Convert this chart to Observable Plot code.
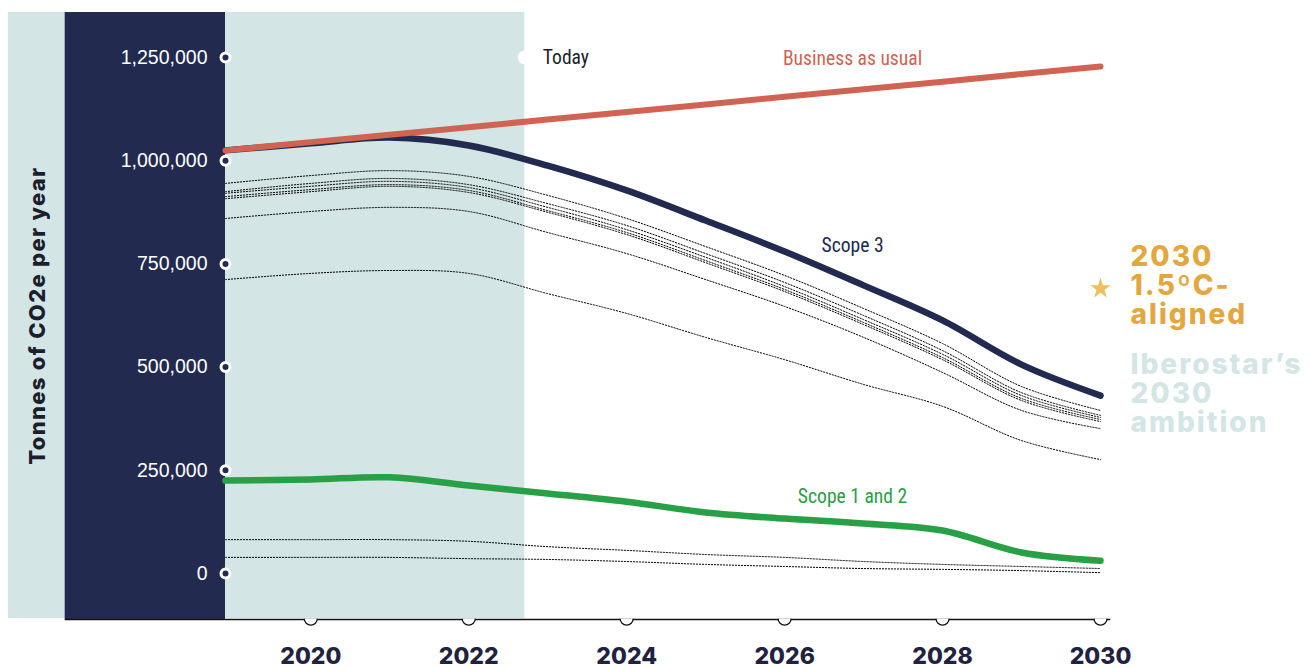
<!DOCTYPE html>
<html>
<head>
<meta charset="utf-8">
<script src="https://cdn.jsdelivr.net/npm/d3@7"></script>
<script src="https://cdn.jsdelivr.net/npm/@observablehq/plot@0.6"></script>
<style>
  html, body { margin: 0; padding: 0; background: #ffffff; }
  #chart svg { display: block; }
</style>
</head>
<body>
<div id="chart"></div>
<script>
// ---- data ----
const years = [2018.92, 2020, 2021, 2022, 2023, 2024, 2025, 2026, 2027, 2028, 2029, 2030];
const businessAsUsual = [1025000, 1045000, 1063000, 1081000, 1100000, 1118000, 1136000, 1155000, 1173000, 1191000, 1210000, 1228000];
const scope3 = [1025000, 1042000, 1056000, 1037000, 988000, 928000, 855000, 780000, 698000, 613000, 506000, 431000];
const scope12 = [225000, 228000, 233000, 213000, 194000, 174000, 148000, 133000, 121000, 104000, 51000, 31000];
const scope3Sub1 = [945000, 964000, 976000, 962000, 916000, 860000, 792000, 722000, 642000, 557000, 453000, 395000];
const scope3Sub2 = [925000, 945000, 957000, 942000, 896000, 843000, 775000, 705000, 625000, 540000, 438000, 383000];
const scope3Sub3 = [921000, 938000, 950000, 935000, 887000, 833000, 766000, 695000, 615000, 531000, 431000, 378000];
const scope3Sub4 = [913000, 930000, 942000, 928000, 879000, 826000, 758000, 688000, 608000, 523000, 424000, 373000];
const scope3Sub5 = [908000, 925000, 938000, 923000, 875000, 821000, 753000, 683000, 603000, 518000, 419000, 368000];
const scope3Sub6 = [860000, 877000, 887000, 877000, 826000, 775000, 712000, 647000, 572000, 487000, 395000, 351000];
const scope3Sub7 = [712000, 727000, 734000, 727000, 678000, 630000, 572000, 518000, 458000, 405000, 322000, 276000];
const scope12Sub1 = [82000, 82000, 82000, 78000, 65000, 56000, 46000, 39000, 29000, 22000, 17000, 12000];
const scope12Sub2 = [39000, 39000, 39000, 36000, 34000, 29000, 22000, 17000, 12000, 10000, 7000, 2000];

const yTicks = [0, 250000, 500000, 750000, 1000000, 1250000];
const xTicks = [2020, 2022, 2024, 2026, 2028, 2030];
const todayYear = 2022.71;
const alignedTarget = 690000;
const labelYear = 2026.86;
const lineLabels = [
  {text: "Business as usual", y: 1248000, color: "#D06352"},
  {text: "Scope 3", y: 795000, color: "#212A4E"},
  {text: "Scope 1 and 2", y: 186000, color: "#28A046"}
];
// background panels (in data units)
const panelLeft = 2016.17, axisBandLeft = 2016.89, axisLineRight = 2030.13;
const panelTop = 1359000, panelBottom = -109000, axisLineValue = -111400;

// ---- styles ----
const navy = "#222B4F", lightBlue = "#D3E5E5", red = "#D06352", green = "#28A046", gold = "#E2A83F", starGold = "#EDC063";
const narrowFont = "'Liberation Sans Narrow', 'Roboto Condensed', 'DejaVu Sans Condensed', 'Liberation Sans', sans-serif";
const tickFont = "'Liberation Sans', Arial, sans-serif";
const boldFont = "Inter, 'Noto Sans', sans-serif";

const toRows = (name, vals) => years.map((x, i) => ({x, y: vals[i], name}));
const dotted = [
  ...toRows("s3a", scope3Sub1), ...toRows("s3b", scope3Sub2), ...toRows("s3c", scope3Sub3),
  ...toRows("s3d", scope3Sub4), ...toRows("s3e", scope3Sub5), ...toRows("s3f", scope3Sub6),
  ...toRows("s3g", scope3Sub7), ...toRows("s12a", scope12Sub1), ...toRows("s12b", scope12Sub2)
];

const halfCircle = {
  draw(context, size) {
    const r = Math.sqrt(size / Math.PI);
    context.moveTo(r, 0);
    context.arc(0, 0, r, 0, Math.PI);
  }
};

const chart = Plot.plot({
  width: 1309,
  height: 668,
  marginLeft: 225,
  marginRight: 209,
  marginTop: 57,
  marginBottom: 95,
  x: {domain: [years[0], 2030], axis: null},
  y: {domain: [0, 1250000], axis: null},
  style: {background: "transparent", overflow: "visible"},
  marks: [
    Plot.rect([0], {x1: panelLeft, x2: todayYear, y1: panelBottom, y2: panelTop, fill: lightBlue}),
    Plot.rect([0], {x1: axisBandLeft, x2: years[0], y1: axisLineValue, y2: panelTop, fill: navy}),
    Plot.ruleY([axisLineValue], {x1: axisBandLeft, x2: axisLineRight, stroke: "#111", strokeWidth: 1.5}),
    Plot.dot(xTicks, {x: d => d, y: axisLineValue, symbol: halfCircle, r: 6.5, fill: "white", stroke: "#111", strokeWidth: 1.3, dy: -0.8}),
    Plot.line(dotted, {x: "x", y: "y", z: "name", curve: "catmull-rom", stroke: "#000", strokeWidth: 1, strokeDasharray: "1.3,1.7"}),
    Plot.line(toRows("s12", scope12), {x: "x", y: "y", curve: "catmull-rom", stroke: green, strokeWidth: 6.5, strokeLinecap: "round"}),
    Plot.line(toRows("s3", scope3), {x: "x", y: "y", curve: "catmull-rom", stroke: navy, strokeWidth: 6.5, strokeLinecap: "round"}),
    Plot.line(toRows("bau", businessAsUsual), {x: "x", y: "y", stroke: red, strokeWidth: 6, strokeLinecap: "round"}),
    // y axis
    Plot.dot(yTicks, {y: d => d, frameAnchor: "left", r: 4.5, fill: navy, stroke: "white", strokeWidth: 3}),
    Plot.text(yTicks, {y: d => d, frameAnchor: "left", dx: -18, text: d => d3.format(",")(d), textAnchor: "end", fill: "white", fontSize: 19.5, fontFamily: tickFont}),
    Plot.text(["Tonnes of CO2e per year"], {frameAnchor: "left", dx: -188, rotate: -90, text: d => d, textAnchor: "middle", lineAnchor: "middle", fill: "#1C1E2E", fontSize: 22, fontWeight: 800, fontFamily: boldFont}),
    // x axis labels
    Plot.text(xTicks, {x: d => d, frameAnchor: "bottom", dy: 74, lineAnchor: "top", text: d => String(d), fill: "#1F2340", fontSize: 23, fontWeight: 800, fontFamily: boldFont}),
    // today marker
    Plot.dot([1250000], {x: todayYear, y: d => d, r: 7, fill: "white"}),
    Plot.text([1250000], {x: todayYear, y: d => d, dx: 18, text: ["Today"], textAnchor: "start", fill: "#1C1E2E", fontSize: 19.6, fontFamily: narrowFont}),
    // line labels
    Plot.text(lineLabels, {x: labelYear, y: "y", text: "text", fill: "color", fontSize: 19.6, fontFamily: narrowFont}),
    // right side annotations
    Plot.dot([alignedTarget], {x: 2030, y: d => d, symbol: "star", r: 6.5, fill: starGold}),
    Plot.text([alignedTarget], {x: 2030, y: d => d, dx: 30, dy: -3, text: ["2030\n1.5ºC-\naligned"], textAnchor: "start", lineAnchor: "middle", lineHeight: 1.04, fill: gold, fontSize: 28, fontWeight: 800, fontFamily: boldFont}),
    Plot.text([scope3[scope3.length - 1]], {x: 2030, y: d => d, dx: 30, dy: -2, text: ["Iberostar’s\n2030\nambition"], textAnchor: "start", lineAnchor: "middle", lineHeight: 1.04, fill: lightBlue, fontSize: 28, fontWeight: 800, fontFamily: boldFont})
  ]
});

// letter spacing (not a Plot text option): applied to the text groups by their font size
d3.select(chart).selectAll('g[font-size="28"]').style("letter-spacing", "2px");
d3.select(chart).selectAll('g[font-size="22"]').style("letter-spacing", "1.3px");

document.getElementById("chart").appendChild(chart);
</script>
</body>
</html>
